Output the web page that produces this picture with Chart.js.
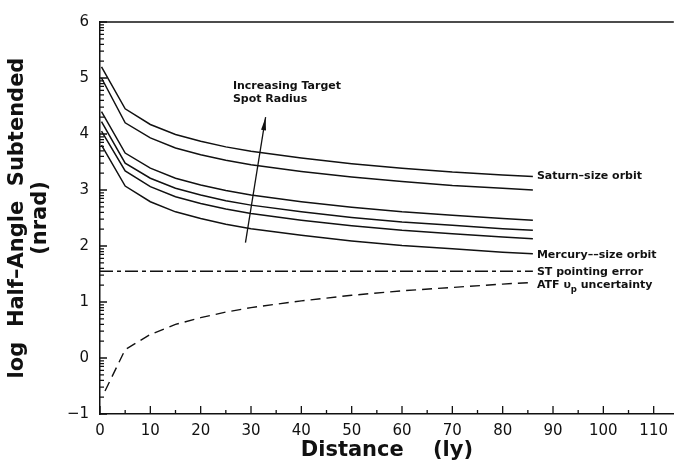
<!DOCTYPE html>
<html>
<head>
<meta charset="utf-8">
<script src="https://cdn.jsdelivr.net/npm/chart.js@4.4.1/dist/chart.umd.min.js"></script>
<style>
  html, body { margin: 0; padding: 0; background: #fff; }
  #wrap { width: 676px; height: 462px; }
</style>
</head>
<body>
<div id="wrap"><canvas id="angleChart" width="676" height="462"></canvas></div>
<script>
// Distances (ly) the curves were read at
const distance = [0.3, 5, 10, 15, 20, 25, 30, 40, 50, 60, 70, 80, 86];
const atfDistance = [1, 5, 10, 15, 20, 25, 30, 40, 50, 60, 70, 80, 86];
const stDistance = [0, 86];

// log half-angle subtended (nrad), target spot radius curves top -> bottom
const saturnOrbit  = [5.20, 4.45, 4.17, 3.99, 3.87, 3.77, 3.69, 3.57, 3.47, 3.39, 3.32, 3.27, 3.24];
const spotRadius2  = [5.00, 4.20, 3.93, 3.75, 3.63, 3.53, 3.45, 3.33, 3.23, 3.15, 3.08, 3.03, 3.00];
const spotRadius3  = [4.40, 3.66, 3.39, 3.21, 3.09, 2.99, 2.91, 2.79, 2.69, 2.61, 2.55, 2.49, 2.46];
const spotRadius4  = [4.22, 3.48, 3.21, 3.03, 2.91, 2.81, 2.73, 2.61, 2.51, 2.43, 2.37, 2.31, 2.28];
const spotRadius5  = [4.05, 3.34, 3.06, 2.88, 2.76, 2.66, 2.58, 2.46, 2.36, 2.28, 2.22, 2.16, 2.13];
const mercuryOrbit = [3.80, 3.07, 2.79, 2.61, 2.49, 2.39, 2.31, 2.19, 2.09, 2.01, 1.95, 1.89, 1.86];
const stPointing   = [1.55, 1.55];
const atfUncertainty = [-0.59, 0.15, 0.42, 0.60, 0.72, 0.82, 0.90, 1.02, 1.12, 1.20, 1.26, 1.32, 1.35];

const xTicks = [0, 10, 20, 30, 40, 50, 60, 70, 80, 90, 100, 110];
const xMinorTicks = [5, 15, 25, 35, 45, 55, 65, 75, 85, 95, 105];
const yTicks = [-1, 0, 1, 2, 3, 4, 5, 6];
const yMinorOffsets = [0.30, 0.48, 0.60, 0.70, 0.78, 0.85, 0.90, 0.95];

const pts = (xs, ys) => ys.map((y, i) => ({ x: xs[i], y: y }));

function solid(data) {
    return { data: data, borderColor: '#111', borderWidth: 1.5, pointRadius: 0, tension: 0, fill: false };
}

const LABEL_FONT = "bold 11px 'DejaVu Sans'";

// axis ticks drawn inward, top frame, arrow and curve labels
const decor = {
    id: 'decor',
    afterDraw(chart) {
        const { ctx, chartArea: a, scales: { x, y } } = chart;
        ctx.save();
        ctx.strokeStyle = '#111';
        ctx.fillStyle = '#111';
        ctx.lineWidth = 1.3;

        // top frame
        ctx.beginPath();
        ctx.moveTo(a.left, a.top);
        ctx.lineTo(a.right, a.top);
        ctx.stroke();

        // y ticks
        ctx.beginPath();
        yTicks.forEach(v => {
            const py = y.getPixelForValue(v);
            ctx.moveTo(a.left, py); ctx.lineTo(a.left + 7, py);
            if (v < 6) {
                yMinorOffsets.forEach(o => {
                    const pm = y.getPixelForValue(v + o);
                    ctx.moveTo(a.left, pm); ctx.lineTo(a.left + 4, pm);
                });
            }
        });
        // x ticks
        xTicks.forEach(v => {
            const px = x.getPixelForValue(v);
            ctx.moveTo(px, a.bottom); ctx.lineTo(px, a.bottom - 8);
        });
        xMinorTicks.forEach(v => {
            const px = x.getPixelForValue(v);
            ctx.moveTo(px, a.bottom); ctx.lineTo(px, a.bottom - 4);
        });
        ctx.stroke();

        // arrow
        const x0 = x.getPixelForValue(28.9), y0 = y.getPixelForValue(2.06);
        const x1 = x.getPixelForValue(32.9), y1 = y.getPixelForValue(4.30);
        ctx.beginPath();
        ctx.moveTo(x0, y0); ctx.lineTo(x1, y1);
        ctx.stroke();
        const ang = Math.atan2(y1 - y0, x1 - x0);
        ctx.beginPath();
        ctx.moveTo(x1, y1);
        ctx.lineTo(x1 - 13 * Math.cos(ang) + 2.5 * Math.sin(ang), y1 - 13 * Math.sin(ang) - 2.5 * Math.cos(ang));
        ctx.lineTo(x1 - 13 * Math.cos(ang) - 2.5 * Math.sin(ang), y1 - 13 * Math.sin(ang) + 2.5 * Math.cos(ang));
        ctx.closePath();
        ctx.fill();

        // text labels
        ctx.font = LABEL_FONT;
        ctx.textBaseline = 'middle';
        ctx.textAlign = 'left';
        const tx = x.getPixelForValue(26.4);
        ctx.fillText('Increasing Target', tx, y.getPixelForValue(4.85));
        ctx.fillText('Spot Radius', tx, y.getPixelForValue(4.62));

        const lx = x.getPixelForValue(86.8);
        ctx.fillText('Saturn\u2013size orbit', lx, y.getPixelForValue(saturnOrbit[saturnOrbit.length - 1]));
        ctx.fillText('Mercury\u2013\u2013size orbit', lx, y.getPixelForValue(mercuryOrbit[mercuryOrbit.length - 1]) + 1);
        ctx.fillText('ST pointing error', lx, y.getPixelForValue(stPointing[1]) + 1);
        const ay = y.getPixelForValue(atfUncertainty[atfUncertainty.length - 1]) + 3;
        let cx = lx;
        ctx.fillText('ATF \u03c5', cx, ay);
        cx += ctx.measureText('ATF \u03c5').width;
        ctx.font = "bold 8.5px 'DejaVu Sans'";
        ctx.fillText('p', cx, ay + 4);
        cx += ctx.measureText('p').width;
        ctx.font = LABEL_FONT;
        ctx.fillText(' uncertainty', cx, ay);
        ctx.restore();
    }
};

new Chart(document.getElementById('angleChart'), {
    type: 'line',
    data: {
        datasets: [
            solid(pts(distance, saturnOrbit)),
            solid(pts(distance, spotRadius2)),
            solid(pts(distance, spotRadius3)),
            solid(pts(distance, spotRadius4)),
            solid(pts(distance, spotRadius5)),
            solid(pts(distance, mercuryOrbit)),
            {
                data: pts(stDistance, stPointing),
                borderColor: '#111', borderWidth: 1.4, borderDash: [13, 4, 4, 4],
                pointRadius: 0, fill: false
            },
            {
                data: pts(atfDistance, atfUncertainty),
                borderColor: '#111', borderWidth: 1.4, borderDash: [10, 6],
                pointRadius: 0, fill: false
            }
        ]
    },
    options: {
        responsive: false,
        animation: false,
        layout: { padding: { top: 22, right: 0, left: 0, bottom: 0 } },
        plugins: { legend: { display: false }, tooltip: { enabled: false } },
        scales: {
            x: {
                type: 'linear',
                min: 0,
                max: 114,
                afterBuildTicks: (scale) => { scale.ticks = xTicks.map(v => ({ value: v })); },
                afterFit: (scale) => { scale.height = 48; },
                grid: { display: false, drawTicks: false },
                border: { display: true, color: '#111', width: 1.5 },
                ticks: {
                    padding: 8,
                    maxRotation: 0,
                    color: '#111',
                    font: { family: "'DejaVu Sans'", size: 15 }
                },
                title: {
                    display: true,
                    text: 'Distance    (ly)',
                    color: '#111',
                    padding: { top: 0, bottom: 0 },
                    font: { family: "'DejaVu Sans'", size: 21, weight: 'bold', lineHeight: 1.1 }
                }
            },
            y: {
                min: -1,
                max: 6,
                afterBuildTicks: (scale) => { scale.ticks = yTicks.map(v => ({ value: v })); },
                afterFit: (scale) => { scale.width = 100; },
                grid: { display: false, drawTicks: false },
                border: { display: true, color: '#111', width: 1.5 },
                ticks: {
                    padding: 11,
                    color: '#111',
                    font: { family: "'DejaVu Sans'", size: 15 },
                    callback: (v) => v < 0 ? '\u2212' + Math.abs(v) : String(v)
                },
                title: {
                    display: true,
                    text: ['log  Half\u2013Angle  Subtended', '(nrad)'],
                    color: '#111',
                    padding: { top: 7, bottom: 0 },
                    font: { family: "'DejaVu Sans'", size: 21, weight: 'bold', lineHeight: 1.05 }
                }
            }
        }
    },
    plugins: [decor]
});
</script>
</body>
</html>
